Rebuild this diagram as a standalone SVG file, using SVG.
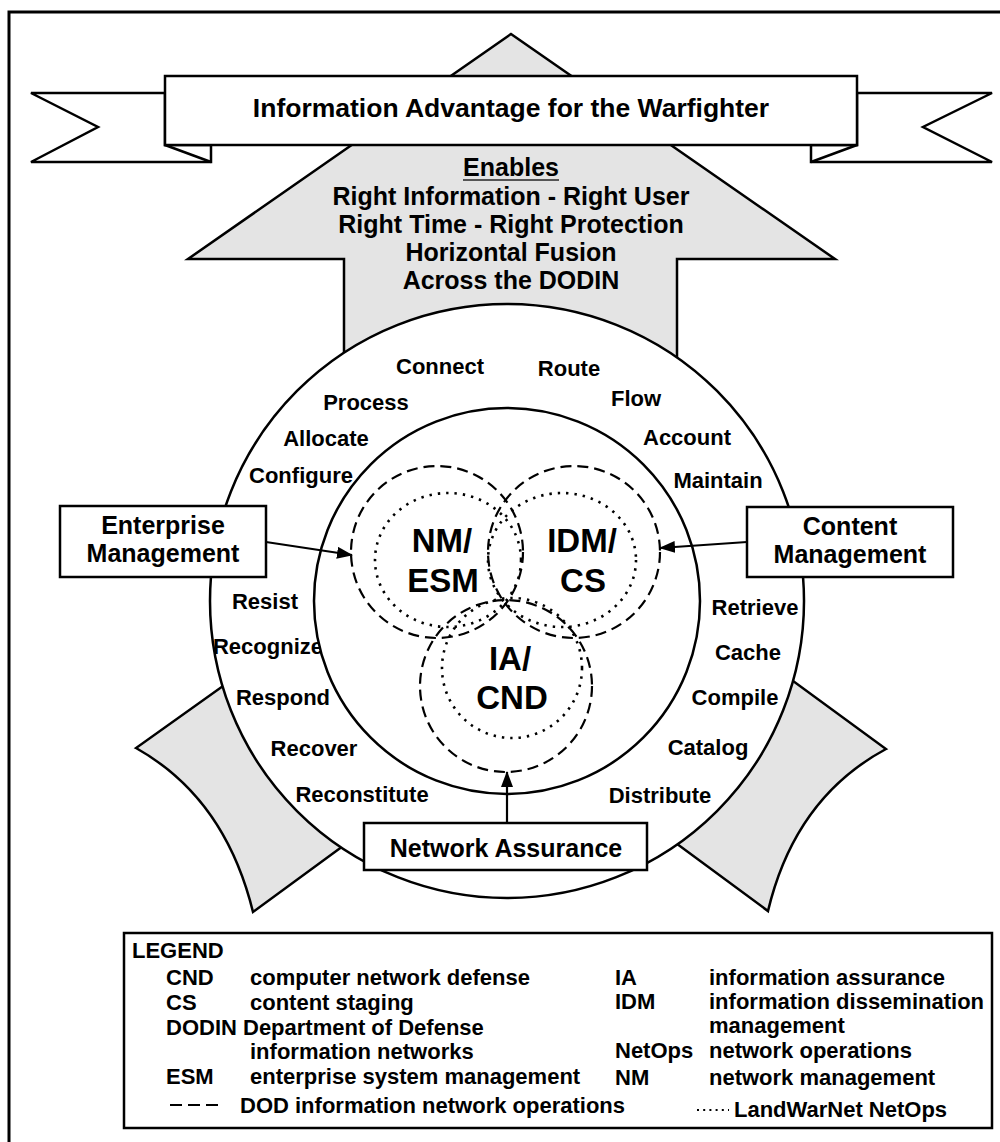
<svg xmlns="http://www.w3.org/2000/svg" width="1000" height="1142" viewBox="0 0 1000 1142">
<defs>
<style>
text{font-family:"Liberation Sans",Arial,Helvetica,sans-serif;font-weight:bold;fill:#000}
.ln{fill:none;stroke:#000;stroke-width:2.5}
.gray{fill:#e4e4e4;stroke:#000;stroke-width:2.5;stroke-linejoin:miter}
.white{fill:#fff;stroke:#000;stroke-width:2.5}
.box{fill:#fff;stroke:#000;stroke-width:2.5}
.ring{font-size:22px;text-anchor:middle}
.big{font-size:33px;text-anchor:middle}
.lbl{font-size:25px;text-anchor:middle}
.arr{font-size:25px;text-anchor:middle}
.leg{font-size:22px}
.dash{fill:none;stroke:#000;stroke-width:2.2;stroke-dasharray:11 6}
.dot{fill:none;stroke:#000;stroke-width:2.6;stroke-dasharray:2.4 6}
.conn{fill:none;stroke:#000;stroke-width:2.2}
</style>
<marker id="ah" viewBox="0 0 16 12" refX="15" refY="6" markerWidth="16" markerHeight="12" markerUnits="userSpaceOnUse" orient="auto">
<path d="M0,0 L16,6 L0,12 z" fill="#000"/>
</marker>
</defs>
<rect x="0" y="0" width="1000" height="1142" fill="#fff"/>
<rect x="9" y="12" width="1000" height="1140" fill="none" stroke="#000" stroke-width="3"/>

<g id="main-arrow">
<polygon class="gray" points="511,34 835,259 677,259 677,470 344,470 344,259 188,259"/>
</g>
<g id="left-wing">
<path class="gray" d="M265,656 L136,748 Q225,798 253,912 L384,816 Z"/>
</g>
<g id="right-wing">
<path class="gray" d="M748,648 L886,749 Q795,798 768,911 L631,810 Z"/>
</g>

<g id="banner">
<path class="white" d="M165,93 L31,93 L98,127 L31,162 L211,162 L211,145 L165,145 Z"/>
<line class="ln" x1="165" y1="145" x2="211" y2="162"/>
<path class="white" d="M857,93 L992,93 L923,127 L992,162 L811,162 L811,145 L857,145 Z"/>
<line class="ln" x1="857" y1="145" x2="811" y2="162"/>
<rect class="white" x="165" y="76" width="692" height="69" stroke-width="3"/>
<text x="511" y="117" font-size="26.5" text-anchor="middle">Information Advantage for the Warfighter</text>
</g>

<g id="arrow-text">
<text class="arr" x="511" y="176">Enables</text>
<line x1="463" y1="180" x2="559" y2="180" stroke="#555" stroke-width="2"/>
<text class="arr" x="511" y="205">Right Information - Right User</text>
<text class="arr" x="511" y="233">Right Time - Right Protection</text>
<text class="arr" x="511" y="261">Horizontal Fusion</text>
<text class="arr" x="511" y="289">Across the DODIN</text>
</g>

<g id="outer-ring">
<circle class="white" cx="507" cy="601" r="297"/>
<text class="ring" x="440" y="374">Connect</text>
<text class="ring" x="366" y="410">Process</text>
<text class="ring" x="326" y="446">Allocate</text>
<text class="ring" x="301" y="483">Configure</text>
<text class="ring" x="569" y="376">Route</text>
<text class="ring" x="636" y="406">Flow</text>
<text class="ring" x="687" y="445">Account</text>
<text class="ring" x="718" y="488">Maintain</text>
<text class="ring" x="265" y="609">Resist</text>
<text class="ring" x="268" y="654">Recognize</text>
<text class="ring" x="283" y="705">Respond</text>
<text class="ring" x="314" y="756">Recover</text>
<text class="ring" x="362" y="802">Reconstitute</text>
<text class="ring" x="755" y="615">Retrieve</text>
<text class="ring" x="748" y="660">Cache</text>
<text class="ring" x="735" y="705">Compile</text>
<text class="ring" x="708" y="755">Catalog</text>
<text class="ring" x="660" y="803">Distribute</text>
</g>

<g id="inner-circle">
<circle class="white" cx="507" cy="601" r="193"/>
</g>

<g id="nm-esm">
<circle class="dash" cx="437" cy="552" r="86"/>
<ellipse class="dot" cx="448" cy="560" rx="73" ry="67"/>
<text class="big" x="442" y="552">NM/</text>
<text class="big" x="443" y="592">ESM</text>
</g>
<g id="idm-cs">
<circle class="dash" cx="574" cy="552" r="86"/>
<ellipse class="dot" cx="562" cy="560" rx="74" ry="67"/>
<text class="big" x="582" y="552">IDM/</text>
<text class="big" x="583" y="592">CS</text>
</g>
<g id="ia-cnd">
<circle class="dash" cx="506" cy="686" r="86"/>
<ellipse class="dot" cx="512" cy="668" rx="70" ry="70"/>
<text class="big" x="510" y="670">IA/</text>
<text class="big" x="512" y="709">CND</text>
</g>

<g id="enterprise-management">
<rect class="box" x="60" y="506" width="206" height="71"/>
<text class="lbl" x="163" y="534">Enterprise</text>
<text class="lbl" x="163" y="562">Management</text>
</g>
<g id="content-management">
<rect class="box" x="747" y="507" width="206" height="70"/>
<text class="lbl" x="850" y="535">Content</text>
<text class="lbl" x="850" y="563">Management</text>
</g>
<g id="network-assurance">
<rect class="box" x="364" y="823" width="283" height="47"/>
<text class="lbl" x="506" y="857">Network Assurance</text>
</g>

<g id="connectors">
<line class="conn" x1="266" y1="542" x2="352" y2="555" marker-end="url(#ah)"/>
<line class="conn" x1="747" y1="542" x2="660" y2="548" marker-end="url(#ah)"/>
<line class="conn" x1="507" y1="823" x2="507" y2="772" marker-end="url(#ah)"/>
</g>

<g id="legend">
<rect class="box" x="124" y="933" width="868" height="195"/>
<text class="leg" x="132" y="958">LEGEND</text>
<text class="leg" x="166" y="985">CND</text>
<text class="leg" x="250" y="985">computer network defense</text>
<text class="leg" x="166" y="1010">CS</text>
<text class="leg" x="250" y="1010">content staging</text>
<text class="leg" x="166" y="1035">DODIN</text>
<text class="leg" x="243" y="1035">Department of Defense</text>
<text class="leg" x="250" y="1059">information networks</text>
<text class="leg" x="166" y="1084">ESM</text>
<text class="leg" x="250" y="1084">enterprise system management</text>
<line x1="170" y1="1105" x2="218" y2="1105" stroke="#000" stroke-width="2.2" stroke-dasharray="12 6"/>
<text class="leg" x="240" y="1113">DOD information network operations</text>
<text class="leg" x="615" y="985">IA</text>
<text class="leg" x="709" y="985">information assurance</text>
<text class="leg" x="615" y="1009">IDM</text>
<text class="leg" x="709" y="1009">information dissemination</text>
<text class="leg" x="709" y="1033">management</text>
<text class="leg" x="615" y="1058">NetOps</text>
<text class="leg" x="709" y="1058">network operations</text>
<text class="leg" x="615" y="1085">NM</text>
<text class="leg" x="709" y="1085">network management</text>
<line x1="697" y1="1110" x2="729" y2="1110" stroke="#000" stroke-width="2" stroke-dasharray="2 4.2"/>
<text class="leg" x="734" y="1117">LandWarNet NetOps</text>
</g>
</svg>
